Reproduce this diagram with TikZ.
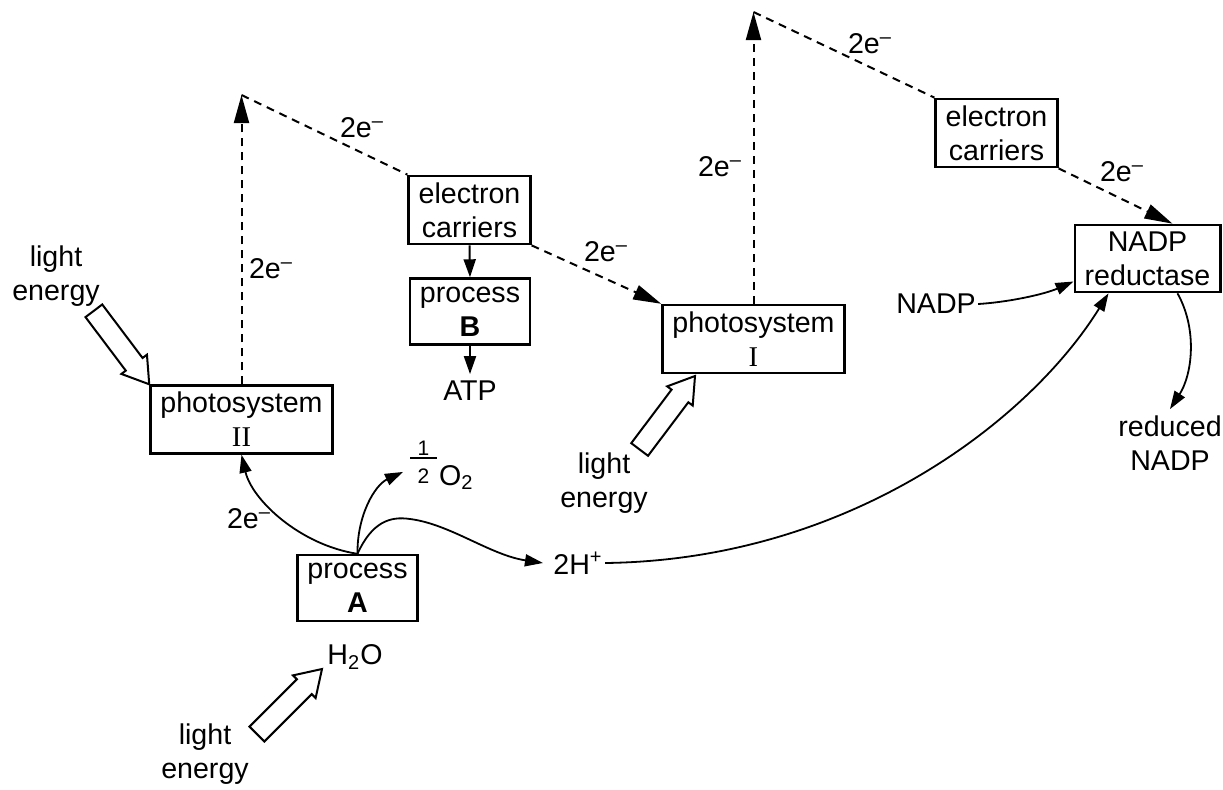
\documentclass[tikz,border=0pt]{standalone}
\usepackage{fontspec}
\setmainfont{Liberation Sans}
\newfontfamily\romanfont{Liberation Serif}
\usetikzlibrary{
  arrows.meta
}

% hollow arrow for light: tip, direction
\newcommand{\lightray}[2]{%
  \begin{scope}[shift={(#1)},rotate=#2]
    \draw[line width=1pt,fill=white]
      (0,0) -- (-25,16) -- (-25,10.5) -- (-92,10.5)
      -- (-92,-10.5) -- (-25,-10.5) -- (-25,-16) -- cycle;
  \end{scope}}
% one half, stacked by hand
\newcommand{\halfsign}{%
  \rlap{\raisebox{15pt}{\makebox[13.5pt]{\fontsize{10.5}{10.5}\selectfont 1}}}%
  \rlap{\rule[13.2pt]{13.5pt}{0.6pt}}%
  \raisebox{1pt}{\makebox[13.5pt]{\fontsize{10.5}{10.5}\selectfont 2}}}

\begin{document}
\begin{tikzpicture}[
  x=0.5pt,y=-0.5pt,
  font=\fontsize{14.3}{17}\selectfont,
  box/.style={draw,line width=1.2pt,align=center,
    minimum height=33pt,inner xsep=5pt},
  eflow/.style={line width=1pt,dash pattern=on 4pt off 3pt},
  flow/.style={line width=0.9pt},
  >={Triangle[length=9pt,width=6pt]}
]
  \useasboundingbox (0,0) rectangle (1223,789);

  % Kästen
  \node[box] (ps2) at (241.5,419.5) {photosystem\\{\romanfont II}};
  \node[box] (ec1) at (469.5,210)   {electron\\carriers};
  \node[box] (pb)  at (470,311.5)   {process\\\textbf{B}};
  \node[box] (pa)  at (357.5,588)   {process\\\textbf{A}};
  \node[box] (ps1) at (753.5,339)   {photosystem\\{\romanfont I}};
  \node[box] (ec2) at (996.5,133)   {electron\\carriers};
  \node[box] (nr)  at (1147.5,258.5) {NADP\\reductase};

  % Stoffe
  \node (atp)   at (470,391)   {ATP};
  \node (h2o)   at (355,657)   {H\textsubscript{2}O};
  \node[anchor=base west] (o2) at (403,485)
    {\halfsign\hspace{1pt}O\textsubscript{2}};
  \node[inner sep=1pt] (hplus) at (578,563) {2H\textsuperscript{+}};
  \node[inner sep=1pt] (nadp)  at (936,304) {NADP};
  \node[align=center] (rnadp) at (1170,443.5) {reduced\\NADP};

  % Licht
  \node[align=center] (le2) at (56,276)  {light\\energy};
  \node[align=center] (le1) at (604,483) {light\\energy};
  \node[align=center] (le0) at (205,754) {light\\energy};

  \coordinate (tipA) at (322,669);
  \coordinate (tipC) at (695,376);
  \lightray{ps2.north west}{-53}
  \lightray{tipC}{53}
  \lightray{tipA}{45}

  % Elektronenweg
  \coordinate (t1) at (241.5,95);
  \coordinate (t2) at (753.5,12);

  \draw[eflow,-{Triangle[length=14pt,width=7.5pt]}] (ps2.north) -- (t1);
  \draw[eflow] (t1) -- (ec1.north west);
  \draw[eflow,-{Triangle[length=14pt,width=7.5pt]}]
    (ec1.south east) -- (ps1.north west);
  \draw[eflow,-{Triangle[length=14pt,width=7.5pt]}] (ps1.north) -- (t2);
  \draw[eflow] (t2) -- (ec2.north west);
  \draw[eflow,-{Triangle[length=14pt,width=7.5pt]}]
    (ec2.south east) -- ([xshift=12.5pt]nr.north);

  \node at (271,269)  {2e\textsuperscript{–}};
  \node at (362,128)  {2e\textsuperscript{–}};
  \node at (606,252)  {2e\textsuperscript{–}};
  \node at (720,167)  {2e\textsuperscript{–}};
  \node at (870,44)   {2e\textsuperscript{–}};
  \node at (1122,172) {2e\textsuperscript{–}};
  \node at (249,519)  {2e\textsuperscript{–}};

  % Pfeile
  \draw[flow,->,line width=1pt] (ec1.south) -- (pb.north);
  \draw[flow,->,line width=1pt] (pb.south) -- (atp.north);

  \draw[flow,->] (pa.north)
    .. controls (300,545) and (252,500) .. (ps2.south);
  \draw[flow,->] (pa.north)
    .. controls (357,515) and (375,485) .. ([yshift=-3.5pt]o2.west);
  \draw[flow,->] (pa.north)
    .. controls (372,522) and (390,516) .. (410,519)
    .. controls (450,524) and (490,555) .. ([xshift=-4pt]hplus.west);

  \draw[flow,->] (hplus.east)
    .. controls (850,560) and (1030,420) .. ([xshift=-19.5pt]nr.south);
  \draw[flow,->] (nadp.east)
    .. controls (1010,302) and (1045,294) .. ([yshift=-11.5pt]nr.west);
  \draw[flow,->] ([xshift=15pt]nr.south)
    .. controls (1198,330) and (1192,375) .. (rnadp.north);

\end{tikzpicture}
\end{document}
